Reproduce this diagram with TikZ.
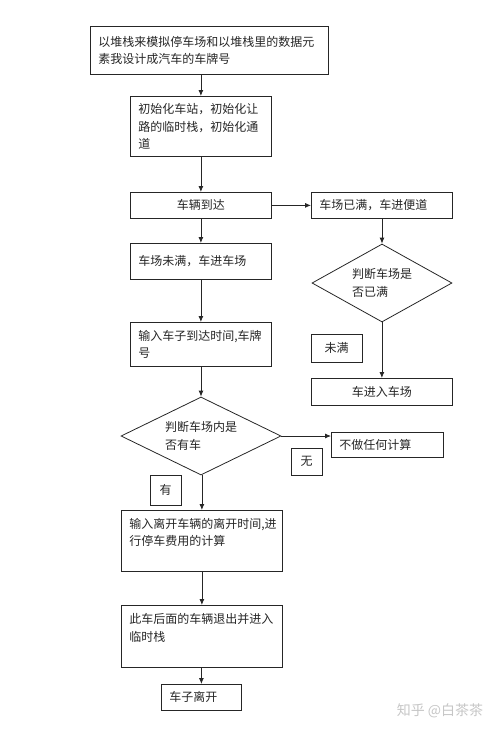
\documentclass[tikz,border=0pt]{standalone}
\usepackage{fontspec}
\setmainfont{Noto Sans CJK SC}
\usetikzlibrary{shapes.geometric,arrows.meta}

\begin{document}
\begin{tikzpicture}[x=1pt, y=-1pt, line width=0.8pt, color=black!85,
        >={Latex[length=6pt,width=5pt]},
        every node/.style={font=\fontsize{12}{17.5}\selectfont},
        box/.style 2 args={draw, anchor=north west, inner xsep=8pt, inner ysep=3pt,
            text width=#1, minimum height=#2, align=left},
        decision/.style={draw, diamond, aspect=2, inner sep=0pt, align=left},
        tag/.style={draw, inner sep=0pt}]
    \useasboundingbox (0,0) rectangle (500,732);
    % main column
    \node[box={222pt}{48pt}] (model) at (90,26) {以堆栈来模拟停车场和以堆栈里的数据元\\素我设计成汽车的车牌号};
    \node[box={125pt}{60pt}] (init) at (130,96) {初始化车站，初始化让\\路的临时栈，初始化通\\道};
    \node[box={125pt}{26pt}, align=center] (arrive) at (130,192) {车辆到达};
    \node[box={125pt}{36pt}] (enter) at (130,243) {车场未满，车进车场};
    \node[box={125pt}{44pt}] (input) at (130,322) {输入车子到达时间,车牌\\号};
    \node[decision, minimum width=160pt, minimum height=78pt] (hascar) at (201,436) {判断车场内是\\否有车};
    \node[box={145pt}{61pt}] (leave) at (121,510) {输入离开车辆的离开时间,进\\行停车费用的计算\\\mbox{}};
    \node[box={145pt}{62pt}] (temp) at (121,605) {此车后面的车辆退出并进入\\临时栈\\\mbox{}};
    \node[box={64pt}{26pt}] (depart) at (161,684) {车子离开};
    % right column
    \node[box={125pt}{26pt}] (full) at (311,192) {车场已满，车进便道};
    \node[decision, minimum width=140pt, minimum height=78pt] (isfull) at (382,283) {判断车场是\\否已满};
    \node[box={125pt}{27pt}, align=center] (park) at (311,378) {车进入车场};
    \node[box={96pt}{25pt}] (nocalc) at (331,432) {不做任何计算};
    % branch tags
    \node[tag, minimum width=51pt, minimum height=28pt] (notfull) at (336.5,348) {未满};
    \node[tag, minimum width=31pt, minimum height=27pt] (none) at (306.5,461.5) {无};
    \node[tag, minimum width=31pt, minimum height=30pt] (yes) at (165.5,490) {有};
    \node[text=gray!45, font=\fontsize{14}{14}\selectfont] (mark) at (440,711) {知乎 @白茶茶};
    % connectors
    \foreach \a/\b in {model/init, init/arrive, arrive/enter, enter/input, input/hascar,
            hascar/leave, leave/temp, temp/depart, full/isfull, isfull/park}
        \draw[->] (\b.north |- \a.south) -- (\b.north);
    \draw[->] (arrive.east) -- (full.west);
    \draw[->] (hascar.east) -- (hascar.east -| nocalc.west);
\end{tikzpicture}
\end{document}
